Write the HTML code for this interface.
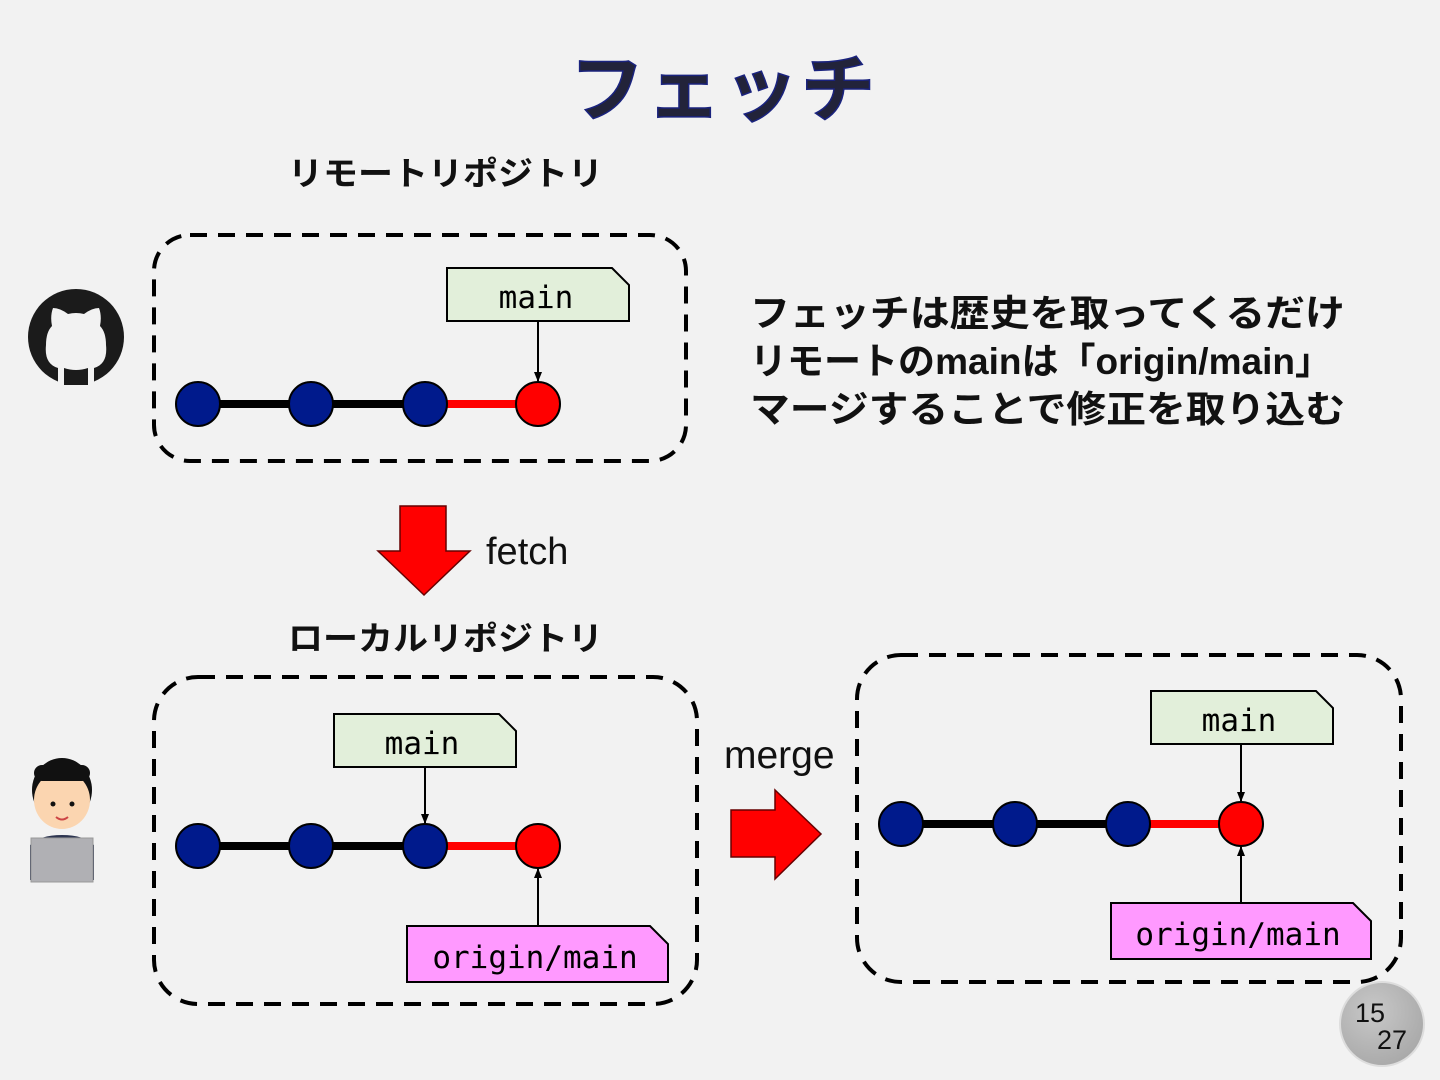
<!DOCTYPE html>
<html><head><meta charset="utf-8"><style>
html,body{margin:0;padding:0;background:#f2f2f2;}
svg{display:block;}
text{font-family:"Liberation Sans","Noto Sans CJK JP",sans-serif;}
.mono{font-family:"DejaVu Sans Mono","Liberation Mono",monospace;}
</style></head><body>
<svg width="1440" height="1080" viewBox="0 0 1440 1080" xmlns="http://www.w3.org/2000/svg">
<defs>
<marker id="ah" markerWidth="10" markerHeight="10" refX="9" refY="5" orient="auto" markerUnits="userSpaceOnUse"><path d="M0,1 L10,5 L0,9 z" fill="#000"/></marker>
<radialGradient id="pg" cx="0.4" cy="0.35" r="0.7"><stop offset="0" stop-color="#c8c8c8"/><stop offset="1" stop-color="#a8a8a8"/></radialGradient>
</defs>
<rect width="1440" height="1080" fill="#f2f2f2"/>
<text x="570" y="115" font-size="74" font-weight="bold" fill="#22233a" stroke="#1a237e" stroke-width="1.5" textLength="305" lengthAdjust="spacing">フェッチ</text>
<text x="288" y="185" font-size="33" font-weight="bold" fill="#111" textLength="315" lengthAdjust="spacingAndGlyphs">リモートリポジトリ</text>
<text x="288" y="650" font-size="33" font-weight="bold" fill="#111" textLength="315" lengthAdjust="spacingAndGlyphs">ローカルリポジトリ</text>
<g font-size="37" font-weight="bold" fill="#111">
<text x="750" y="326" textLength="595" lengthAdjust="spacingAndGlyphs">フェッチは歴史を取ってくるだけ</text>
<text x="750" y="374" textLength="582" lengthAdjust="spacingAndGlyphs">リモートのmainは「origin/main」</text>
<text x="750" y="422" textLength="595" lengthAdjust="spacingAndGlyphs">マージすることで修正を取り込む</text>
</g>
<!-- github -->
<circle cx="76" cy="337" r="48" fill="#1b1b1b"/>
<path d="M58,385 L58,368 Q44,364 46,345 Q46,332 52,326 Q50,316 53,308 Q60,308 68,314 Q76,312 84,314 Q92,308 99,308 Q102,316 100,326 Q106,332 106,345 Q108,364 94,368 L94,385 Z" fill="#f2f2f2"/>
<path d="M64,368 L64,385 L88,385 L88,368 Q76,372 64,368Z" fill="#1b1b1b"/>
<path d="M58,378 Q48,378 44,368 Q50,372 58,372Z" fill="#1b1b1b"/>
<!-- person -->
<ellipse cx="62" cy="790" rx="30" ry="32" fill="#111"/>
<ellipse cx="62" cy="800" rx="28" ry="29" fill="#fbd5b0"/>
<rect x="34" y="765" width="56" height="16" rx="8" fill="#111"/>
<circle cx="53" cy="804" r="2.5" fill="#111"/><circle cx="72" cy="804" r="2.5" fill="#111"/>
<path d="M56,817 Q62,822 68,817" stroke="#c44" stroke-width="2" fill="none"/>
<path d="M30,880 L30,845 Q40,835 62,835 Q84,835 94,845 L94,880Z" fill="#2d3550"/>
<rect x="31" y="838" width="62" height="44" fill="#b0b0b4" stroke="#999"/>
<!-- top box -->
<rect x="154" y="235" width="532" height="226" rx="36" fill="none" stroke="#000" stroke-width="4" stroke-dasharray="17,11"/>
<line x1="198" y1="404" x2="425" y2="404" stroke="#000" stroke-width="8"/>
<line x1="425" y1="404" x2="538" y2="404" stroke="#f00" stroke-width="8"/>
<g stroke="#000" stroke-width="2">
<circle cx="198" cy="404" r="22" fill="#001a8c"/><circle cx="311" cy="404" r="22" fill="#001a8c"/><circle cx="425" cy="404" r="22" fill="#001a8c"/><circle cx="538" cy="404" r="22" fill="#f00"/>
</g>
<path d="M447,268 L612,268 L629,285 L629,321 L447,321Z" fill="#e2efda" stroke="#000" stroke-width="2"/>
<text class="mono" x="536" y="308" text-anchor="middle" font-size="31">main</text>
<line x1="538" y1="321" x2="538" y2="381" stroke="#000" stroke-width="2" marker-end="url(#ah)"/>
<!-- fetch arrow -->
<path d="M400,506 L446,506 L446,551 L470,551 L424,595 L378,551 L400,551Z" fill="#f00" stroke="#600" stroke-width="1.5"/>
<text x="486" y="564" font-size="38" fill="#111">fetch</text>
<!-- bottom left box -->
<rect x="154" y="677" width="543" height="327" rx="44" fill="none" stroke="#000" stroke-width="4" stroke-dasharray="17,11"/>
<line x1="198" y1="846" x2="425" y2="846" stroke="#000" stroke-width="8"/>
<line x1="425" y1="846" x2="538" y2="846" stroke="#f00" stroke-width="8"/>
<g stroke="#000" stroke-width="2">
<circle cx="198" cy="846" r="22" fill="#001a8c"/><circle cx="311" cy="846" r="22" fill="#001a8c"/><circle cx="425" cy="846" r="22" fill="#001a8c"/><circle cx="538" cy="846" r="22" fill="#f00"/>
</g>
<path d="M334,714 L499,714 L516,731 L516,767 L334,767Z" fill="#e2efda" stroke="#000" stroke-width="2"/>
<text class="mono" x="422" y="754" text-anchor="middle" font-size="31">main</text>
<line x1="425" y1="767" x2="425" y2="823" stroke="#000" stroke-width="2" marker-end="url(#ah)"/>
<path d="M407,926 L650,926 L668,944 L668,982 L407,982Z" fill="#ff99ff" stroke="#000" stroke-width="2"/>
<text class="mono" x="535" y="968" text-anchor="middle" font-size="31">origin/main</text>
<line x1="538" y1="926" x2="538" y2="869" stroke="#000" stroke-width="2" marker-end="url(#ah)"/>
<!-- merge -->
<text x="724" y="768" font-size="39" fill="#111">merge</text>
<path d="M731,810 L775,810 L775,790 L821,834 L775,879 L775,857 L731,857Z" fill="#f00" stroke="#600" stroke-width="1.5"/>
<!-- right box -->
<rect x="857" y="655" width="544" height="327" rx="44" fill="none" stroke="#000" stroke-width="4" stroke-dasharray="17,11"/>
<line x1="901" y1="824" x2="1128" y2="824" stroke="#000" stroke-width="8"/>
<line x1="1128" y1="824" x2="1241" y2="824" stroke="#f00" stroke-width="8"/>
<g stroke="#000" stroke-width="2">
<circle cx="901" cy="824" r="22" fill="#001a8c"/><circle cx="1015" cy="824" r="22" fill="#001a8c"/><circle cx="1128" cy="824" r="22" fill="#001a8c"/><circle cx="1241" cy="824" r="22" fill="#f00"/>
</g>
<path d="M1151,691 L1316,691 L1333,708 L1333,744 L1151,744Z" fill="#e2efda" stroke="#000" stroke-width="2"/>
<text class="mono" x="1239" y="731" text-anchor="middle" font-size="31">main</text>
<line x1="1241" y1="744" x2="1241" y2="801" stroke="#000" stroke-width="2" marker-end="url(#ah)"/>
<path d="M1111,903 L1353,903 L1371,921 L1371,959 L1111,959Z" fill="#ff99ff" stroke="#000" stroke-width="2"/>
<text class="mono" x="1238" y="945" text-anchor="middle" font-size="31">origin/main</text>
<line x1="1241" y1="903" x2="1241" y2="847" stroke="#000" stroke-width="2" marker-end="url(#ah)"/>
<!-- page num -->
<circle cx="1382" cy="1024" r="42" fill="url(#pg)" stroke="#ddd" stroke-width="2"/>
<text x="1370" y="1022" text-anchor="middle" font-size="27" fill="#111">15</text>
<text x="1392" y="1049" text-anchor="middle" font-size="27" fill="#111">27</text>
</svg>
</body></html>
